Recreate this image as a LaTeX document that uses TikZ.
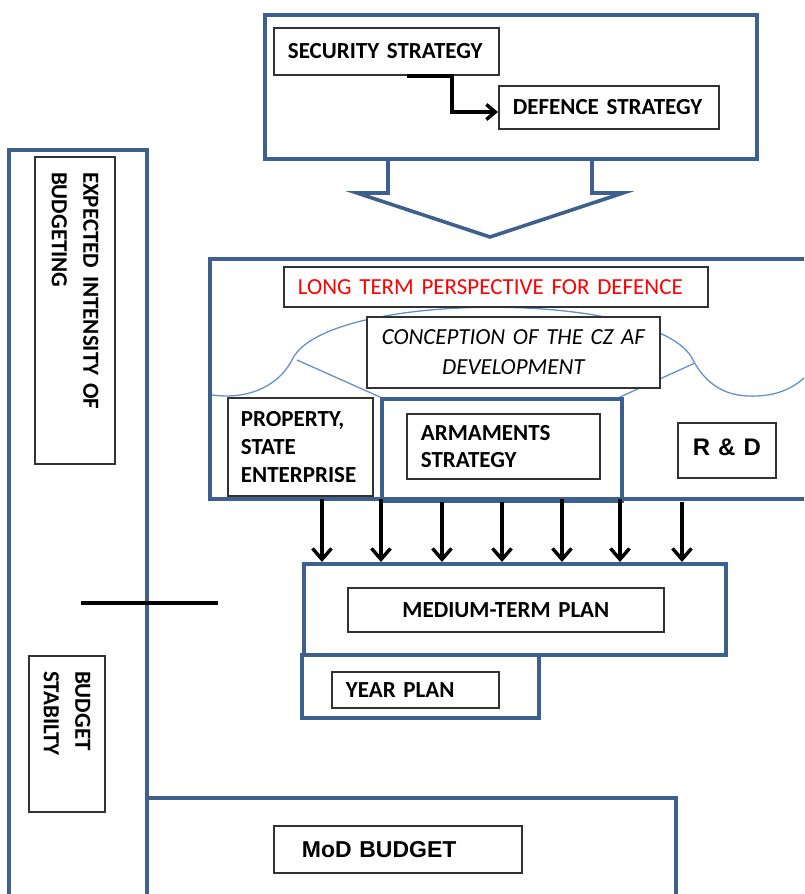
\documentclass[tikz,border=0pt]{standalone}
\usepackage{fontspec}
\setmainfont[WordSpace=0.85]{Carlito}
\newfontfamily\arialf{Liberation Sans}
\usetikzlibrary{arrows.meta}
\definecolor{boxblue}{RGB}{61,96,142}
\definecolor{cloudblue}{RGB}{100,145,205}
\definecolor{inline}{RGB}{50,50,50}
\tikzset{
  bluebox/.style={draw=boxblue, line width=3.6pt},
  inbox/.style={draw=inline, line width=1.8pt, fill=white, inner xsep=14pt, inner ysep=0pt,
     anchor=north west, align=left, font=\fontsize{23}{28}\selectfont\bfseries},
  rotbox/.style={inbox, rotate=-90, anchor=center, inner xsep=15pt,
     font=\fontsize{23}{31.5}\selectfont\bfseries},
  arr/.style={draw=black, line width=3.4pt, -{Straight Barb[length=11pt,width=19pt,line width=3.4pt]}},
  cloudline/.style={draw=cloudblue, line width=1.3pt}
}
\begin{document}
\begin{tikzpicture}[x=1pt,y=-1pt]
\useasboundingbox (0,0) rectangle (804,894);
\clip (0,0) rectangle (804,894);
\fill[white] (0,0) rectangle (804,894);

% top box
\node[bluebox, anchor=north west, minimum width=492, minimum height=144, inner sep=0pt] (top) at (263,13) {};
\node[inbox, text width=197pt, minimum height=47pt] (sec) at (273,27) {SECURITY STRATEGY};
\node[inbox, text width=192pt, minimum height=43pt] (def) at (498,85) {DEFENCE STRATEGY};
\coordinate (c1) at (407,76);
\draw[draw=black, line width=3.4pt, -{Straight Barb[length=9pt,width=15pt,line width=3.4pt]}]
  (c1) -- (452,76) -- (452,112) -- (def.west |- 0,112);

% big chevron arrow
\draw[bluebox, line join=miter] (388,157) -- (388,193) -- (357,193) -- (490,237) -- (623,193) -- (592,193) -- (592,157);

% left column
\draw[bluebox] (9,900) -- (9,150) -- (147,150) -- (147,900);
\node[rotbox, text width=277pt, minimum height=80pt] (exp) at (75,310.5) {EXPECTED INTENSITY OF\\BUDGETING};
\node[rotbox, text width=126pt, minimum height=76pt] (stab) at (67,734) {BUDGET\\STABILTY};
\coordinate (l1) at (81,603);
\coordinate (l2) at (218,603);
\draw[draw=black, line width=3.4pt] (l1) -- (l2);

% middle box
\draw[bluebox] (812,259) -- (210,259) -- (210,499) -- (812,499);
% cloud
\draw[cloudline] (212,395) .. controls (250,400) and (280,385) .. (293,358);
\draw[cloudline] (293,358) .. controls (330,290) and (660,290) .. (693,360);
\draw[cloudline] (693,360) .. controls (710,392) and (735,397) .. (757,396)
   .. controls (780,395) and (797,387) .. (812,370);
\draw[cloudline] (297,360) -- (380,397);
\draw[cloudline] (695,363) -- (620,397);

\node[inbox, text width=396pt, minimum height=40pt, font=\fontsize{23}{28}\selectfont, text=red] (ltp) at (283,266) {LONG TERM PERSPECTIVE FOR DEFENCE};
\node[inbox, text width=265pt, minimum height=71pt, align=center, font=\fontsize{23}{30}\selectfont\itshape] (conc) at (366,316) {CONCEPTION OF THE CZ AF\\DEVELOPMENT};
\node[inbox, text width=119pt, minimum height=98pt, inner xsep=13pt] (prop) at (227,397) {PROPERTY,\\STATE\\ENTERPRISE};
\node[bluebox, anchor=north west, minimum width=240, minimum height=102, inner sep=0pt] (armo) at (380,397) {};
\node[inbox, text width=165pt, minimum height=65pt, font=\fontsize{23}{27}\selectfont\bfseries] (arm) at (406,413) {ARMAMENTS\\STRATEGY};
\node[inbox, text width=70pt, minimum height=55pt, align=center, font=\fontsize{24}{28}\selectfont\arialf\bfseries] (rd) at (677,422) {\raisebox{6pt}{R \& D}};

% medium term plan
\node[bluebox, anchor=north west, minimum width=422, minimum height=91, inner sep=0pt] (medo) at (302,562) {};
\node[inbox, text width=288pt, minimum height=44pt, align=center] (med) at (347,587) {MEDIUM-TERM PLAN};
\draw[bluebox] (302,653) -- (302,718) -- (539,718) -- (539,653);
\node[inbox, text width=139pt, minimum height=36pt] (year) at (331,671) {YEAR PLAN};

% arrows
\foreach \i/\xx/\yy in {1/322/499, 2/381/499, 3/442/502, 4/502/502, 5/562/499, 6/620/499, 7/682/502} {
  \coordinate (a\i) at (\xx,\yy);
  \draw[arr] (a\i) -- (a\i |- medo.north);
}

% MoD budget
\draw[bluebox] (147,798) -- (676,798) -- (676,900);
\node[inbox, text width=192pt, minimum height=47pt, inner xsep=28pt, font=\fontsize{23}{28}\selectfont\arialf\bfseries] (mod) at (273,825) {MoD BUDGET};
\end{tikzpicture}
\end{document}
